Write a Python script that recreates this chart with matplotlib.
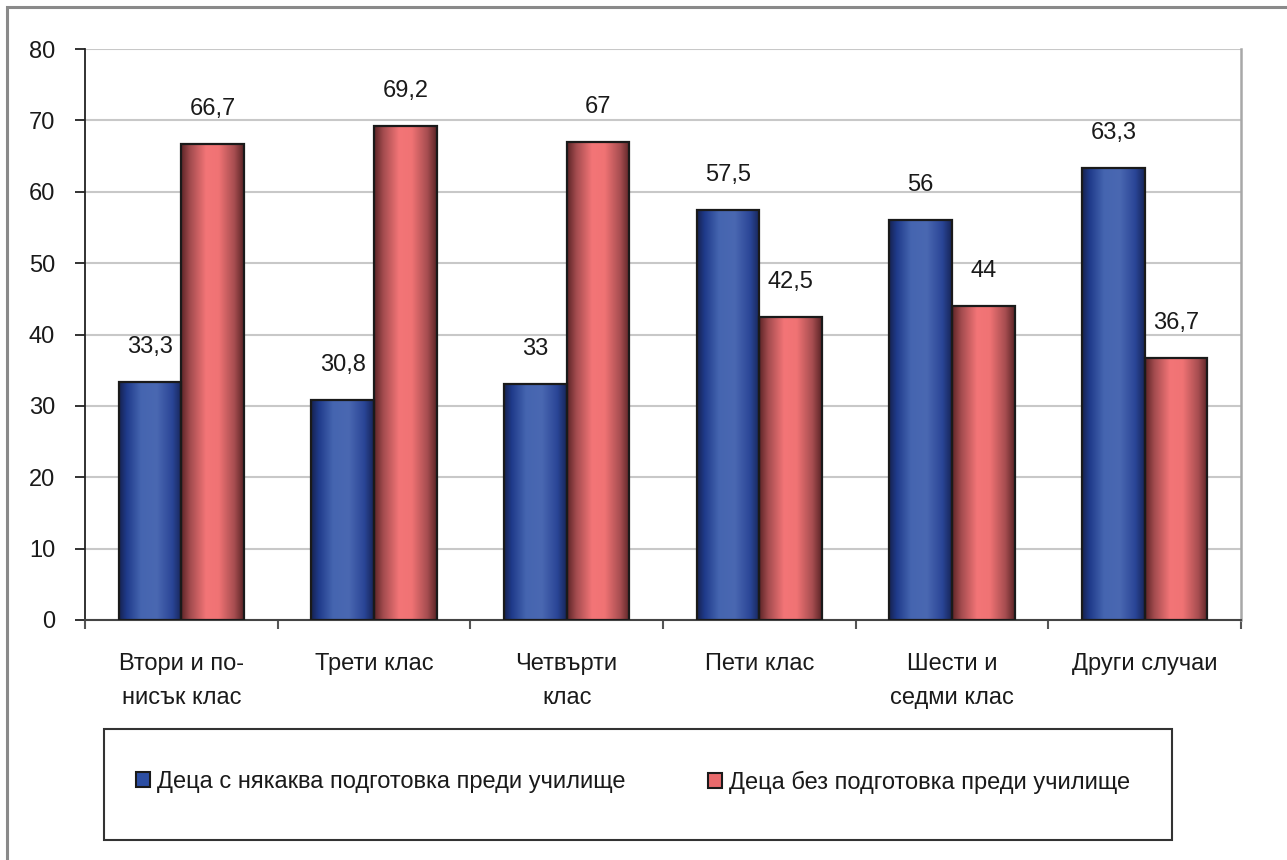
import numpy as np
import matplotlib.pyplot as plt
from matplotlib.patches import Rectangle
from matplotlib.colors import LinearSegmentedColormap

plt.rcParams['font.family'] = ['Liberation Sans Narrow', 'Liberation Sans', 'DejaVu Sans']

categories = ['Втори и по-\nнисък клас', 'Трети клас', 'Четвърти\nклас',
              'Пети клас', 'Шести и\nседми клас', 'Други случаи']
prepared = [33.3, 30.8, 33, 57.5, 56, 63.3]
unprepared = [66.7, 69.2, 67, 42.5, 44, 36.7]
labels_prepared = ['33,3', '30,8', '33', '57,5', '56', '63,3']
labels_unprepared = ['66,7', '69,2', '67', '42,5', '44', '36,7']
series_names = ['Деца с някаква подготовка преди училище',
                'Деца без подготовка преди училище']

FS = 17
W, H = 1287, 860
fig = plt.figure(figsize=(W / 100, H / 100), dpi=100)

# outer frame
fig.patches.append(Rectangle((7 / W, -0.1), 1.2, 1 - 7 / H + 0.1, transform=fig.transFigure,
                             fill=False, edgecolor='#8a8a8a', linewidth=2.2))

ax = fig.add_axes([85 / W, 1 - 620 / H, (1241 - 85) / W, (620 - 49) / H])

# cylinder-like shading across each bar
blue_cmap = LinearSegmentedColormap.from_list('blue_bar', [
    (0.0, '#16224f'), (0.12, '#1f3a8a'), (0.35, '#4565b0'), (0.6, '#4a68b2'),
    (0.85, '#2a4596'), (1.0, '#172558')])
red_cmap = LinearSegmentedColormap.from_list('red_bar', [
    (0.0, '#5c2426'), (0.15, '#a44c4f'), (0.4, '#f37577'), (0.6, '#f07374'),
    (0.85, '#a64d50'), (1.0, '#5a2426')])
grad = np.linspace(0, 1, 256).reshape(1, -1)

x = np.arange(len(categories))
bw = 0.325

for vals, offs, cmap in [(prepared, -bw / 2, blue_cmap), (unprepared, bw / 2, red_cmap)]:
    bars = ax.bar(x + offs, vals, width=bw, facecolor='none', edgecolor='#1a1a1a',
                  linewidth=1.6, zorder=4)
    for b in bars:
        x0, w, h = b.get_x(), b.get_width(), b.get_height()
        im = ax.imshow(grad, cmap=cmap, aspect='auto', extent=(x0, x0 + w, 0, h),
                       zorder=3, interpolation='bilinear')
        im.set_clip_path(b)

for xi, v, s in zip(x, prepared, labels_prepared):
    ax.text(xi - bw / 2, v + 4.9, s, ha='center', va='center', fontsize=FS, color='#1a1a1a')
for xi, v, s in zip(x, unprepared, labels_unprepared):
    ax.text(xi + bw / 2, v + 4.9, s, ha='center', va='center', fontsize=FS, color='#1a1a1a')

ax.set_xlim(-0.5, len(categories) - 0.5)
ax.set_ylim(0, 80)
ax.set_yticks(np.arange(0, 81, 10))
ax.yaxis.grid(True, color='#c8c8c8', linewidth=1.5)
ax.set_axisbelow(True)

ax.set_xticks(x)
ax.set_xticklabels(categories, fontsize=FS, color='#1a1a1a', linespacing=1.7)
ax.set_xticks(np.arange(-0.5, len(categories)), minor=True)
ax.tick_params(axis='x', which='major', length=0, pad=24)
ax.tick_params(axis='x', which='minor', length=6.5, width=1.5, color='#555555')
ax.tick_params(axis='y', length=7.5, width=1.3, color='#222222', pad=14,
               labelsize=FS, labelcolor='#1a1a1a')

ax.spines['top'].set_visible(False)
ax.spines['right'].set_color('#a8a8a8')
ax.spines['right'].set_linewidth(1.8)
ax.spines['left'].set_color('#222222')
ax.spines['left'].set_linewidth(1.3)
ax.spines['bottom'].set_color('#444444')
ax.spines['bottom'].set_linewidth(1.5)

# legend box with the two entries placed inside it
fig.patches.append(Rectangle((104 / W, 1 - 840 / H), (1172 - 104) / W, (840 - 729) / H,
                             transform=fig.transFigure, fill=False,
                             edgecolor='#333333', linewidth=1.5))
colors = ['#2c4ea3', '#e86a6c']
for name, c, x_left in zip(series_names, colors, [136, 708]):
    h = Rectangle((0, 0), 1, 1, facecolor=c, edgecolor='#1a1a1a', linewidth=1.5)
    leg = fig.legend([h], [name], loc='center left',
                     bbox_to_anchor=(x_left / W, 1 - 782 / H), fontsize=FS,
                     frameon=False, handlelength=0.6, handleheight=0.6,
                     handletextpad=0.3, borderpad=0, borderaxespad=0)
    for t in leg.get_texts():
        t.set_color('#1a1a1a')

fig.savefig('out.png', dpi=100)
